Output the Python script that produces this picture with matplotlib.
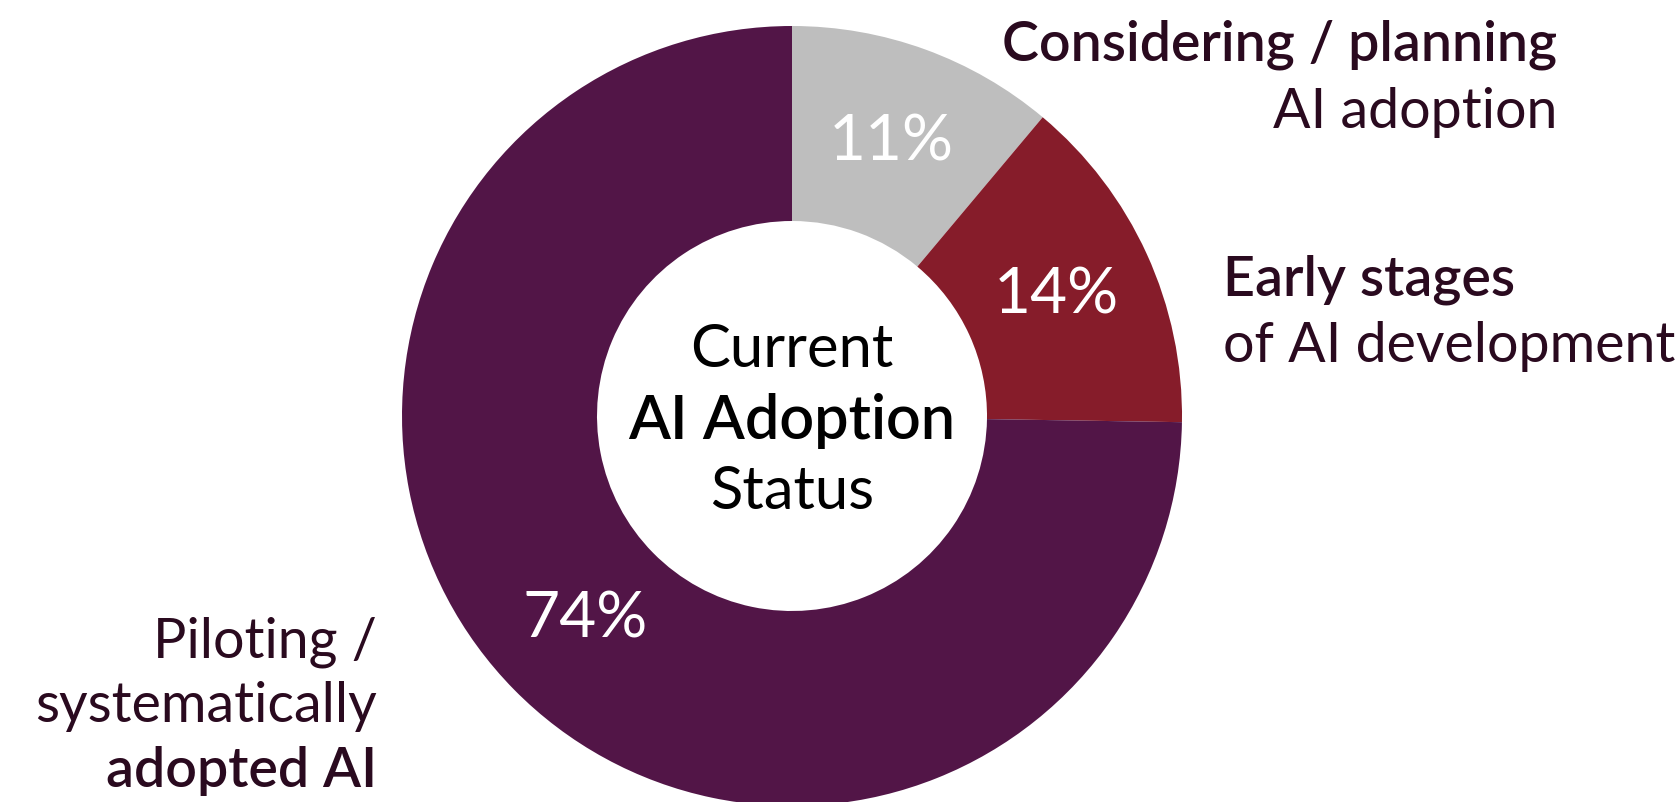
import numpy as np
import matplotlib
matplotlib.use('Agg')
from matplotlib import pyplot as plt

# adoption status shares (%)
labels = ['Considering / planning AI adoption',
          'Early stages of AI development',
          'Piloting / systematically adopted AI']
values = [11, 14, 74]
colors = ['#bebebe', '#861c2a', '#521547']

txt = '#2a0a1f'
plt.rcParams['font.family'] = ['Lato', 'DejaVu Sans']

fig = plt.figure(figsize=(16.78, 8.02), dpi=100)
ax = fig.add_axes([0, 0, 1, 1])

cx, cy, R = 792, 386, 390
wedges, _ = ax.pie(values, colors=colors, startangle=90, counterclock=False,
                   center=(cx, cy), radius=R, frame=True,
                   wedgeprops=dict(width=R * 0.5, linewidth=0))
ax.set_xlim(0, 1678)
ax.set_ylim(0, 802)
ax.set_aspect('equal')
ax.axis('off')

# percent labels at the middle of each wedge
for w, v in zip(wedges, values):
    a = np.deg2rad((w.theta1 + w.theta2) / 2)
    r = R * 0.745
    ax.text(cx + r * np.cos(a), cy + r * np.sin(a), f'{v}%', color='white',
            fontsize=46, ha='center', va='center')

# centre title
ax.text(cx, 802 - 350, 'Current', ha='center', va='center', fontsize=43, color='black')
ax.text(cx, 802 - 421, 'AI Adoption', ha='center', va='center', fontsize=44,
        fontweight='semibold', color='black')
ax.text(cx, 802 - 492, 'Status', ha='center', va='center', fontsize=43, color='black')

# category labels
fs = 40
ax.text(1557, 802 - 45, 'Considering / planning', ha='right', va='center',
        fontsize=fs, fontweight='semibold', color=txt)
ax.text(1557, 802 - 112, 'AI adoption', ha='right', va='center', fontsize=fs, color=txt)

ax.text(1223, 802 - 280, 'Early stages', ha='left', va='center',
        fontsize=fs, fontweight='semibold', color=txt)
ax.text(1223, 802 - 346, 'of AI development', ha='left', va='center', fontsize=fs, color=txt)

ax.text(377, 802 - 642, 'Piloting /', ha='right', va='center', fontsize=fs, color=txt)
ax.text(377, 802 - 706, 'systematically', ha='right', va='center', fontsize=fs, color=txt)
ax.text(377, 802 - 771, 'adopted AI', ha='right', va='center',
        fontsize=fs, fontweight='semibold', color=txt)

fig.savefig('out.png', dpi=100, facecolor='white')
